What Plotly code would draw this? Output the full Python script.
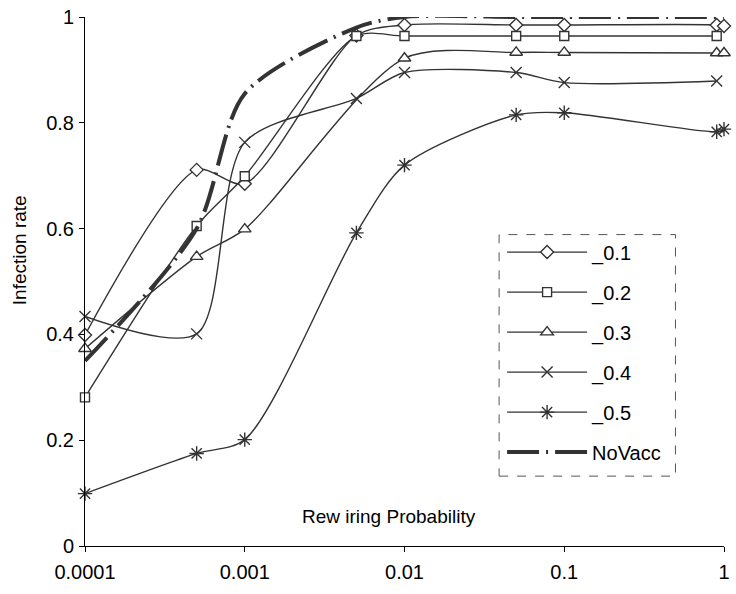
import plotly.graph_objects as go

# ---- data ----
x_01 = [0.0001, 0.0005, 0.001, 0.005, 0.01, 0.05, 0.1, 0.9, 1]
y_01 = [0.399, 0.711, 0.685, 0.965, 0.985, 0.985, 0.985, 0.985, 0.983]

x_02 = [0.0001, 0.0005, 0.001, 0.005, 0.01, 0.05, 0.1, 0.9]
y_02 = [0.281, 0.605, 0.699, 0.964, 0.964, 0.964, 0.964, 0.964]

x_03 = [0.0001, 0.0005, 0.001, 0.01, 0.05, 0.1, 0.9, 1]
y_03 = [0.373, 0.547, 0.599, 0.922, 0.933, 0.933, 0.932, 0.932]

x_04 = [0.0001, 0.0005, 0.001, 0.005, 0.01, 0.05, 0.1, 0.9]
y_04 = [0.434, 0.401, 0.763, 0.846, 0.895, 0.895, 0.876, 0.879]

x_05 = [0.0001, 0.0005, 0.001, 0.005, 0.01, 0.05, 0.1, 0.9, 1]
y_05 = [0.099, 0.175, 0.201, 0.592, 0.720, 0.815, 0.819, 0.783, 0.788]

x_nv = [0.0001, 0.0005, 0.001, 0.005, 0.01, 0.05, 0.1, 1]
y_nv = [0.350, 0.600, 0.855, 0.980, 1.0, 1.0, 1.0, 1.0]

names = ["_0.1", "_0.2", "_0.3", "_0.4", "_0.5", "NoVacc"]
x_ticks = [0.0001, 0.001, 0.01, 0.1, 1]
x_ticktext = ["0.0001", "0.001", "0.01", "0.1", "1"]
y_ticks = [0, 0.2, 0.4, 0.6, 0.8, 1]
y_ticktext = ["0", "0.2", "0.4", "0.6", "0.8", "1"]

FONT = "Liberation Sans, Arial, sans-serif"
DARK = "#333333"

fig = go.Figure()

series = [
    (x_01, y_01, "diamond", 10),
    (x_02, y_02, "square", 9),
    (x_03, y_03, "triangle-up", 11),
    (x_04, y_04, "x-thin", 11),
    (x_05, y_05, "asterisk", 12),
]
for i, (xs, ys, sym, sz) in enumerate(series):
    fig.add_trace(go.Scatter(
        x=xs, y=ys, name=names[i], mode="lines+markers",
        line=dict(color=DARK, width=1.4, shape="spline", smoothing=0.8),
        marker=dict(symbol=sym, size=sz, color="white",
                    line=dict(color=DARK, width=1.4)),
        legendgroup=names[i], cliponaxis=False,
    ))

fig.add_trace(go.Scatter(
    x=x_nv, y=y_nv, name=names[5], mode="lines",
    line=dict(color=DARK, width=4, shape="spline", smoothing=0.8,
              dash="32px,7px,2px,7px"),
    legendgroup=names[5], cliponaxis=False,
))

fig.update_layout(
    width=736, height=594,
    margin=dict(l=85, r=6, t=16, b=48),
    paper_bgcolor="white", plot_bgcolor="white",
    font=dict(family=FONT, size=20, color="black"),
    showlegend=True,
    legend=dict(
        x=(506 - 85) / 645, y=(546 - 232) / 530,
        xanchor="left", yanchor="top",
        bgcolor="rgba(0,0,0,0)", borderwidth=0,
        font=dict(family=FONT, size=20, color="black"),
        itemwidth=80, tracegroupgap=11,
    ),
    xaxis=dict(
        type="log", range=[-4, 0],
        tickvals=x_ticks, ticktext=x_ticktext,
        showgrid=False, zeroline=False,
        showline=True, linecolor="black", linewidth=1,
        ticks="outside", ticklen=5, tickcolor="black",
        ticklabelstandoff=3,
    ),
    yaxis=dict(
        range=[0, 1],
        tickvals=y_ticks, ticktext=y_ticktext,
        showgrid=False, zeroline=False,
        showline=True, linecolor="black", linewidth=1,
        ticks="outside", ticklen=5, tickcolor="black",
        ticklabelstandoff=1,
    ),
    shapes=[dict(
        type="rect", xref="paper", yref="paper",
        x0=(503 - 85) / 645, x1=(681 - 85) / 645,
        y0=(546 - 476) / 530, y1=(546 - 234) / 530,
        line=dict(color="#555555", width=1, dash="dash"),
        fillcolor="rgba(0,0,0,0)",
    )],
    annotations=[
        dict(text="Rew iring Probability", xref="paper", yref="paper",
             x=(392 - 85) / 645, y=(546 - 516) / 530,
             showarrow=False, xanchor="center", yanchor="middle",
             font=dict(family=FONT, size=19, color="black")),
        dict(text="Infection rate", xref="paper", yref="paper",
             x=(19 - 85) / 645, y=(546 - 250) / 530, textangle=-90,
             showarrow=False, xanchor="center", yanchor="middle",
             font=dict(family=FONT, size=19, color="black")),
    ],
)

fig.write_html("out.html")
